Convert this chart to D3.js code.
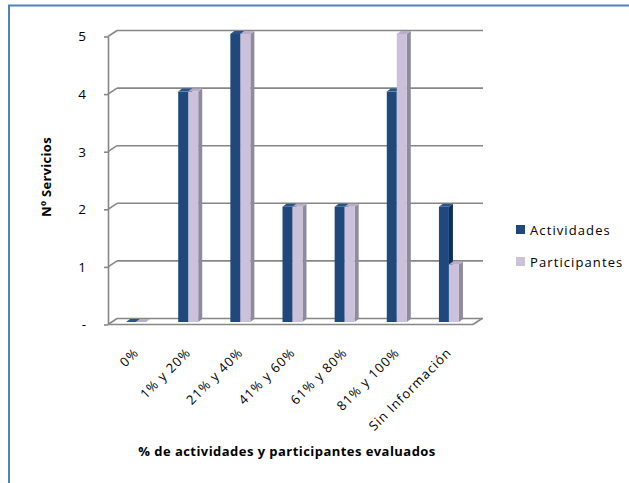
<!DOCTYPE html>
<html>
<head>
<meta charset="utf-8">
<script src="https://cdn.jsdelivr.net/npm/d3@7/dist/d3.min.js"></script>
<style>
  html, body { margin: 0; padding: 0; background: #fff; }
  svg { display: block; }
  text { font-family: "Open Sans", "DejaVu Sans", sans-serif; fill: #000; }
</style>
</head>
<body>
<svg id="chart" width="629" height="483"></svg>
<script>
// Data
const categories = ["0%", "1% y 20%", "21% y 40%", "41% y 60%", "61% y 80%", "81% y 100%", "Sin Información"];
const actividades = [0, 4, 5, 2, 2, 4, 2];
const participantes = [0, 4, 5, 2, 2, 5, 1];
const seriesNames = ["Actividades", "Participantes"];
const yTicks = [0, 1, 2, 3, 4, 5];
const yTickLabels = ["-", "1", "2", "3", "4", "5"];

const svg = d3.select("#chart");

// Outer frame (only top and left edges fall inside the canvas)
svg.append("rect")
  .attr("x", 9).attr("y", 5.5)
  .attr("width", 700).attr("height", 600)
  .attr("fill", "none").attr("stroke", "#4f81bd").attr("stroke-width", 2);

// Plot geometry: front plane plus a depth offset for the 3D walls
const depth = { dx: 9, dy: -6 };
const x = d3.scaleBand().domain(categories).range([108, 473]);
const yFront = d3.scaleLinear().domain([0, 5]).range([324.5, 36.5]);
const yBar = d3.scaleLinear().domain([0, 5]).range([322, 34]);

const gridColor = "#878787";
const grid = svg.append("g").attr("stroke", gridColor).attr("stroke-width", 1.6).attr("fill", "none");

// Back wall gridlines and the diagonal connectors to the front axis
yTicks.forEach(t => {
  const yf = yFront(t);
  grid.append("line")
    .attr("x1", 108 + depth.dx).attr("y1", yf + depth.dy)
    .attr("x2", 473 + depth.dx + 1).attr("y2", yf + depth.dy);
  grid.append("line")
    .attr("x1", 108).attr("y1", yf)
    .attr("x2", 108 + depth.dx).attr("y2", yf + depth.dy);
});

// Floor front edge and right diagonal
grid.append("line")
  .attr("x1", 108).attr("y1", yFront(0))
  .attr("x2", 473).attr("y2", yFront(0));
grid.append("line")
  .attr("x1", 473).attr("y1", yFront(0))
  .attr("x2", 473 + depth.dx).attr("y2", yFront(0) + depth.dy);

// Front value axis
const yAxis = d3.axisLeft(yFront)
  .tickValues(yTicks)
  .tickSize(4)
  .tickSizeOuter(0)
  .tickPadding(18)
  .tickFormat((d, i) => yTickLabels[i]);
const gy = svg.append("g").attr("transform", "translate(108,0)").call(yAxis);
gy.selectAll("path, line").attr("stroke", gridColor).attr("stroke-width", 1.6);
gy.selectAll("text").style("font-size", "13.5px").style("font-family", "\"Open Sans\", sans-serif");

// 3D bars
const barW = 10;
const bd = { dx: 4, dy: -3 };
const styles = [
  { front: "#1f497d", side: "#132f54", top: "#2a5389" },
  { front: "#ccc1da", side: "#8f8a9d", top: "#b8aec8" }
];
const bars = svg.append("g");

categories.forEach((c, i) => {
  const vals = [actividades[i], participantes[i]];
  vals.forEach((v, s) => {
    const st = styles[s];
    const x0 = x(c) + x.bandwidth() / 2 - 8 + s * barW;
    const x1 = x0 + barW;
    const yb = yBar(0);
    const yt = yBar(v);
    const g = bars.append("g");
    if (v > 0) {
      // right side face
      g.append("path")
        .attr("d", `M${x1},${yt}L${x1 + bd.dx},${yt + bd.dy}L${x1 + bd.dx},${yb + bd.dy}L${x1},${yb}Z`)
        .attr("fill", st.side);
      // front face
      g.append("rect")
        .attr("x", x0).attr("y", yt)
        .attr("width", barW).attr("height", yb - yt)
        .attr("fill", st.front);
    }
    // top face
    g.append("path")
      .attr("d", `M${x0},${yt}L${x0 + bd.dx},${yt + bd.dy}L${x1 + bd.dx},${yt + bd.dy}L${x1},${yt}Z`)
      .attr("fill", st.top);
  });
});

// Category axis labels
const xAxis = d3.axisBottom(x).tickSize(0).tickPadding(0);
const gx = svg.append("g").attr("transform", "translate(0,347)").call(xAxis);
gx.select(".domain").remove();
gx.selectAll("text")
  .style("font-size", "13px")
  .style("letter-spacing", "1px")
  .style("font-family", "\"Open Sans\", sans-serif")
  .attr("text-anchor", "end")
  .attr("dy", "0.7em")
  .attr("transform", "translate(-1,0) rotate(-45)");

// Axis titles
svg.append("text")
  .attr("transform", "translate(51,177) rotate(-90)")
  .attr("text-anchor", "middle")
  .style("font-size", "13px").style("font-weight", "bold")
  .style("letter-spacing", "0.3px")
  .text("Nº Servicios");

svg.append("text")
  .attr("x", 287).attr("y", 456)
  .attr("text-anchor", "middle")
  .style("font-size", "13px").style("font-weight", "bold")
  .style("letter-spacing", "0.45px")
  .text("% de actividades y participantes evaluados");

// Legend
const legend = svg.append("g");
seriesNames.forEach((n, i) => {
  const ly = 230 + i * 32;
  legend.append("rect")
    .attr("x", 516).attr("y", ly - 5)
    .attr("width", 9).attr("height", 9)
    .attr("fill", styles[i].front);
  legend.append("text")
    .attr("x", 530).attr("y", ly + 5)
    .style("font-size", "13px")
    .style("letter-spacing", "1.1px")
    .text(n);
});
</script>
</body>
</html>
